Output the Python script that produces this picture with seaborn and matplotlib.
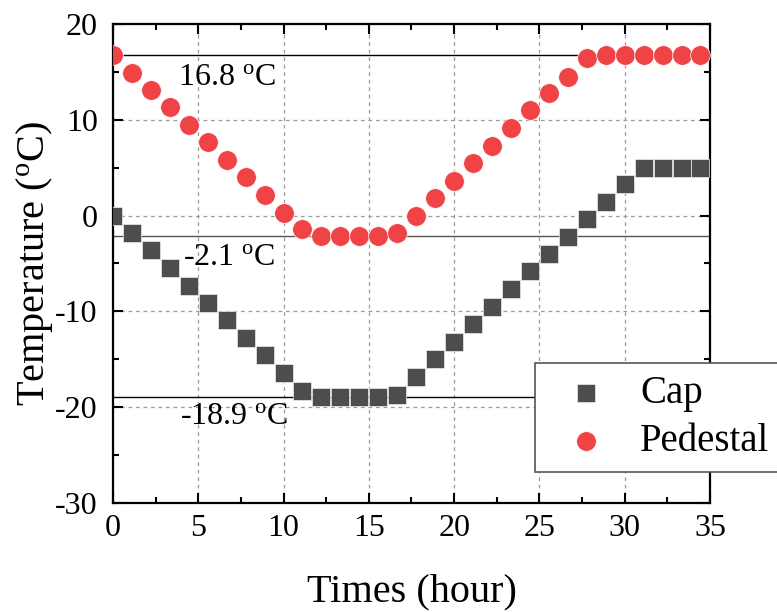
import numpy as np
import pandas as pd
import matplotlib
matplotlib.use("Agg")
import matplotlib.pyplot as plt
import seaborn as sns

# Sampling times (hours) and measured temperatures (degC)
times = [0.00, 1.11, 2.22, 3.33, 4.44, 5.56, 6.67, 7.78, 8.89, 10.00,
         11.11, 12.22, 13.33, 14.44, 15.56, 16.67, 17.78, 18.89, 20.00, 21.11,
         22.22, 23.33, 24.44, 25.56, 26.67, 27.78, 28.89, 30.00, 31.11, 32.22,
         33.33, 34.44]
cap = [0.0, -1.8, -3.6, -5.5, -7.3, -9.1, -10.9, -12.8, -14.6, -16.4,
       -18.3, -18.9, -18.9, -18.9, -18.9, -18.7, -16.8, -15.0, -13.2, -11.3,
       -9.5, -7.7, -5.8, -4.0, -2.2, -0.4, 1.4, 3.3, 4.95, 4.95,
       4.95, 4.95]
pedestal = [16.8, 14.9, 13.1, 11.3, 9.5, 7.7, 5.85, 4.05, 2.2, 0.3,
            -1.4, -2.1, -2.1, -2.1, -2.1, -1.8, 0.0, 1.8, 3.6, 5.5,
            7.3, 9.1, 11.0, 12.8, 14.5, 16.4, 16.8, 16.8, 16.8, 16.8,
            16.8, 16.8]

# Reference levels: pedestal max/min, cap min
ref_levels = [16.8, -2.1, -18.9]
ref_labels = ["16.8 $^\\mathrm{o}$C", "-2.1 $^\\mathrm{o}$C", "-18.9 $^\\mathrm{o}$C"]
ref_label_pos = [(3.8, 14.4), (4.1, -4.4), (3.9, -21.0)]
ref_colors = ["black", "#555555", "black"]

x_ticks = [0, 5, 10, 15, 20, 25, 30, 35]
y_ticks = [-30, -20, -10, 0, 10, 20]

sns.set_style("ticks")
plt.rcParams["font.family"] = ["Liberation Serif", "DejaVu Serif"]
plt.rcParams["mathtext.fontset"] = "custom"
plt.rcParams["mathtext.rm"] = "Liberation Serif"
plt.rcParams["mathtext.it"] = "Liberation Serif:italic"
plt.rcParams["axes.unicode_minus"] = False
for key in ["text.color", "axes.labelcolor", "xtick.color", "ytick.color"]:
    plt.rcParams[key] = "black"

df = pd.DataFrame({
    "Time": times * 2,
    "Temperature": cap + pedestal,
    "Series": ["Cap"] * len(times) + ["Pedestal"] * len(times),
})

fig = plt.figure(figsize=(7.77, 6.12), dpi=100)
ax = fig.add_axes([0.1454, 0.1781, 0.9138 - 0.1454, 0.9608 - 0.1781])

# Reference lines and their labels
for lvl, col in zip(ref_levels, ref_colors):
    ax.axhline(lvl, color=col, lw=1.0, zorder=1.5)
for (tx, ty), lab in zip(ref_label_pos, ref_labels):
    ax.text(tx, ty, lab, fontsize=23, va="center", ha="left", zorder=3)

sns.scatterplot(data=df[df.Series == "Cap"], x="Time", y="Temperature",
                marker="s", s=150, color="#4d4d4d", edgecolor="#eeeeee",
                linewidth=0.5, label="Cap", ax=ax, zorder=4)
sns.scatterplot(data=df[df.Series == "Pedestal"], x="Time", y="Temperature",
                marker="o", s=200, color="#f04345", edgecolor="white",
                linewidth=0.5, label="Pedestal", ax=ax, zorder=4)

ax.set_xlim(0, 35)
ax.set_ylim(-30, 20)
ax.set_xticks(x_ticks)
ax.set_yticks(y_ticks)
ax.set_xticks(np.arange(0, 35.1, 2.5), minor=True)
ax.set_yticks(np.arange(-30, 20.1, 5), minor=True)
ax.tick_params(which="both", direction="in", top=True, right=True,
               labelsize=23, width=1.5, color="black")
ax.tick_params(axis="x", which="both", pad=8)
ax.tick_params(axis="y", which="both", pad=11)
ax.tick_params(which="major", length=7)
ax.tick_params(which="minor", length=4)
ax.grid(True, which="major", color="#9a9a9a", ls=(0, (3, 3)), lw=0.9)
ax.set_axisbelow(True)
for sp in ax.spines.values():
    sp.set_linewidth(1.6)
    sp.set_color("black")

ax.set_xlabel("Times (hour)", fontsize=29, labelpad=22)
ax.set_ylabel("Temperature ($^\\mathrm{o}$C)", fontsize=29, labelpad=0)

leg = ax.legend(loc="upper left", bbox_to_anchor=(0.707, 0.292),
                fontsize=28, frameon=True, fancybox=False, framealpha=1,
                edgecolor="#555555", borderpad=0.3, handletextpad=0.4,
                labelspacing=0.3, borderaxespad=0, markerscale=1.0,
                handlelength=2.0)
leg.get_frame().set_linewidth(1.2)
leg.set_zorder(5)

fig.savefig("out.png", dpi=100)
